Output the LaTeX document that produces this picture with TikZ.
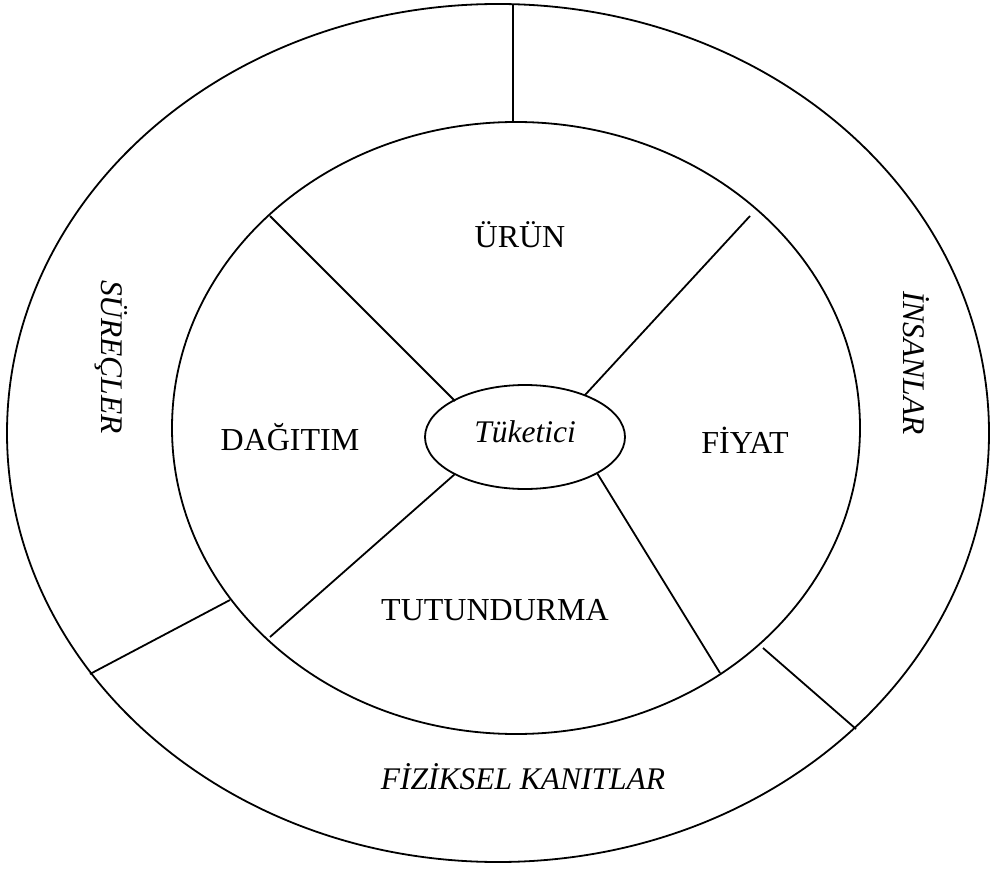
\documentclass[tikz,border=0pt]{standalone}
\usepackage{fontspec}
\setmainfont{Liberation Serif}
\begin{document}
\begin{tikzpicture}[x=1pt,y=-1pt,
  ring/.style={draw,line width=1.8pt},
  divider/.style={draw,line width=1.8pt},
  lbl/.style={font=\fontsize{32}{38}\selectfont,inner sep=0pt},
  ilbl/.style={font=\fontsize{31.5}{38}\selectfont\itshape,inner sep=0pt}]
\useasboundingbox (0,0) rectangle (990,874);
% rings: outer band, the four-part disc and the core
\draw[ring] (498,433) ellipse [x radius=491, y radius=429];
\draw[ring] (516,428) ellipse [x radius=344, y radius=306];
\draw[ring] (525,437) ellipse [x radius=100, y radius=52];
% dividers of the outer band
\coordinate (o1) at (513,4);   \coordinate (i1) at (513,122);
\coordinate (o2) at (90,674);  \coordinate (i2) at (230,600);
\coordinate (o3) at (856,729); \coordinate (i3) at (763,648);
\draw[divider] (o1) -- (i1);
\draw[divider] (o2) -- (i2);
\draw[divider] (o3) -- (i3);
% dividers of the disc
\coordinate (a1) at (270,216); \coordinate (c1) at (455,401);
\coordinate (a2) at (750,216); \coordinate (c2) at (585,395);
\coordinate (a3) at (270,637); \coordinate (c3) at (455,474);
\coordinate (a4) at (720,673); \coordinate (c4) at (597,473);
\draw[divider] (a1) -- (c1);
\draw[divider] (a2) -- (c2);
\draw[divider] (a3) -- (c3);
\draw[divider] (a4) -- (c4);
% labels
\node[ilbl] (core) at (525,432) {Tüketici};
\node[lbl] (urun) at (520,235) {ÜRÜN};
\node[lbl] (dag) at (290,437) {DAĞITIM};
\node[lbl] (fiyat) at (745,440) {FİYAT};
\node[lbl] (tut) at (495,610) {TUTUNDURMA};
\node[ilbl] (fiz) at (523,777) {FİZİKSEL KANITLAR};
\node[ilbl,rotate=-90] (sur) at (111,357) {SÜREÇLER};
\node[ilbl,rotate=-90] (ins) at (916,363) {İNSANLAR};
\end{tikzpicture}
\end{document}
